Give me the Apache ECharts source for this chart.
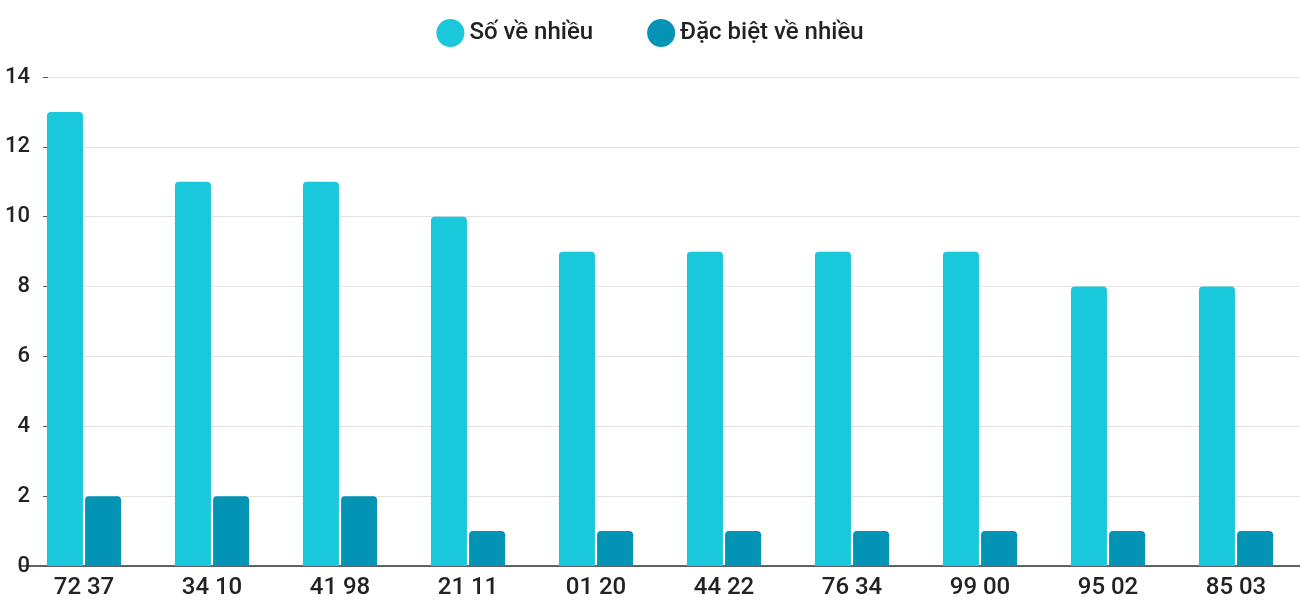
<!DOCTYPE html><html><head><meta charset="utf-8"><script src="https://cdn.jsdelivr.net/npm/echarts@6/dist/echarts.min.js"></script></head><body style="margin:0"><div id="c" style="width:1300px;height:600px"></div><script>
const categories=["72 37","34 10","41 98","21 11","01 20","44 22","76 34","99 00","95 02","85 03"];
const soVeNhieu=[13,11,11,10,9,9,9,9,8,8];
const dacBiet=[2,2,2,1,1,1,1,1,1,1];
const c=echarts.init(document.getElementById('c'));
c.setOption({
legend:{top:14,left:'center',itemGap:54,icon:'circle',itemWidth:28,itemHeight:28,textStyle:{fontFamily:'Roboto',fontSize:24,fontWeight:500,color:'#222'}},
grid:[{left:48,right:0,top:77,bottom:34},{left:20,width:1307,top:77,bottom:34}],
xAxis:[{gridIndex:0,type:'value',show:false},{gridIndex:1,type:'category',data:categories,axisTick:{show:false},axisLine:{lineStyle:{color:'#333',width:1.5}},axisLabel:{fontFamily:'Roboto',fontSize:24,fontWeight:500,color:'#222',margin:10}}],
yAxis:[{gridIndex:0,type:'value',min:0,max:14,interval:2,axisLine:{show:false},axisLabel:{fontFamily:'Roboto',fontSize:22,fontWeight:500,color:'#222',margin:18},splitLine:{lineStyle:{color:'#e3e3e3'}}},{gridIndex:1,type:'value',min:0,max:14,interval:2,show:false,splitLine:{show:false}}],
series:[
{name:'Số về nhiều',type:'bar',xAxisIndex:1,yAxisIndex:1,data:soVeNhieu,barWidth:36,barGap:'6%',itemStyle:{color:'#1ac8db',borderRadius:[4,4,0,0]}},
{name:'Đặc biệt về nhiều',type:'bar',xAxisIndex:1,yAxisIndex:1,data:dacBiet,barWidth:36,itemStyle:{color:'#0393b5',borderRadius:[4,4,0,0]}}
]});
</script></body></html>
